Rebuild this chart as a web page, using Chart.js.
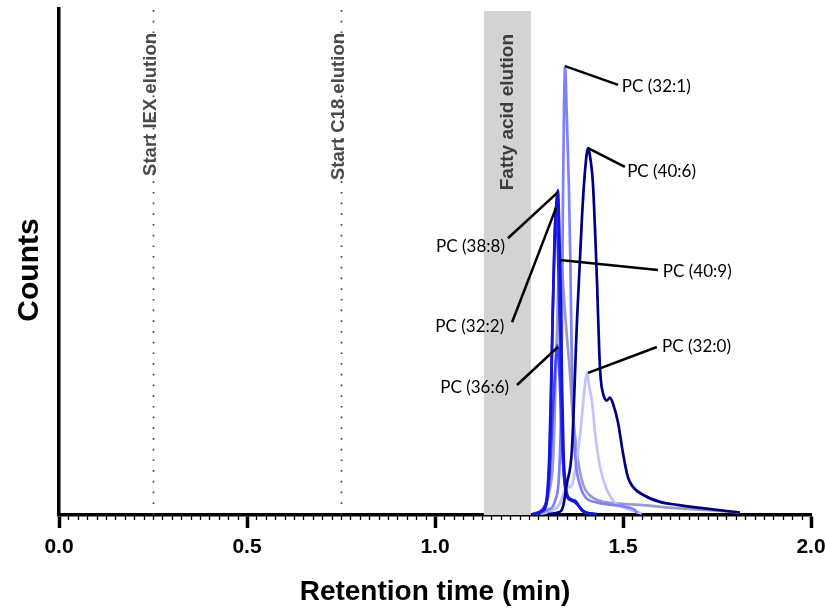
<!DOCTYPE html>
<html><head><meta charset="utf-8">
<script src="https://cdn.jsdelivr.net/npm/chart.js@4"></script>
<style>html,body{margin:0;padding:0;background:#fff}</style>
</head><body>
<canvas id="c" width="825" height="613"></canvas>
<script>
// ---- data (retention time in min, counts in arbitrary % units) ----
const pc406X = [1.30,1.332,1.340,1.351,1.364,1.378,1.391,1.399,1.407,1.414,1.420,1.431,1.437,1.441,1.447,1.457,1.465,1.473,1.487,1.500,1.513,1.527,1.553,1.598,1.644,1.705,1.811];
const pc406Y = [0.2,0.6,1.5,6.3,12.8,39,59,68,72.5,70,65.6,45.8,32,26.7,24,22.6,23.2,22.1,18.2,12.2,7.5,5.5,4,2.6,2,1.4,0.5];

const pc321X = [1.26,1.30,1.32,1.33,1.335,1.338,1.340,1.343,1.346,1.350,1.356,1.360,1.364,1.368,1.375,1.385,1.40,1.43,1.47,1.50,1.527,1.54];
const pc321Y = [0.2,1,3,8,20,40,60,80,88.7,80,65,50,30,18,10,6,3.5,2.5,2,1.7,1.2,0.4];

const pc388X = [1.26,1.29,1.298,1.303,1.308,1.313,1.318,1.323,1.327,1.330,1.334,1.338,1.342,1.347,1.352,1.36,1.37,1.38,1.39,1.40,1.43];
const pc388Y = [0.2,1,3,8,20,40,55,62,64.2,58,45,25,12,6,3.5,3,2.8,2,1,0.5,0.2];

const pc322X = [1.27,1.29,1.298,1.304,1.310,1.316,1.320,1.322,1.326,1.331,1.336,1.341,1.347,1.355,1.365,1.375,1.385,1.40,1.42];
const pc322Y = [0.3,1.5,4,12,30,48,58,61,55,40,22,10,5,3.5,3,2.7,1.5,0.5,0.2];

const pc366X = [1.28,1.295,1.305,1.312,1.319,1.325,1.331,1.337,1.343,1.35,1.36,1.37,1.38,1.39,1.41];
const pc366Y = [0.5,2,8,18,28,33.6,28,16,8,4.5,3,2.6,2,1,0.3];

const pc409X = [1.26,1.29,1.305,1.315,1.322,1.328,1.332,1.338,1.344,1.351,1.359,1.365,1.372,1.380,1.394,1.410,1.439,1.48,1.545,1.632,1.720,1.811];
const pc409Y = [0.2,1.5,5,12,30,45,50.4,48,42,35,28,21,16,11,6,4,2.8,2.3,2.0,1.4,1.0,0.5];

const pc320X = [1.28,1.31,1.33,1.345,1.351,1.357,1.365,1.375,1.386,1.394,1.400,1.404,1.409,1.418,1.426,1.439,1.457,1.479,1.50,1.527,1.55];
const pc320Y = [0.2,0.8,2,5,6.3,5.5,6,10,16,22,26.5,28.1,26,22,16,9.5,5,2.4,1.6,0.8,0.3];

const seriesNames = ['PC (40:6)','PC (38:8)','PC (32:2)','PC (36:6)','PC (32:1)','PC (32:0)','PC (40:9)'];
const xTickLabels = ['0.0','0.5','1.0','1.5','2.0'];
const markerTimes = [0.25, 0.75];
const markerLabels = ['Start IEX elution','Start C18 elution'];
const bandRange = [1.13, 1.255];
const bandLabel = 'Fatty acid elution';
const yTitle = 'Counts';
const xTitle = 'Retention time (min)';

// annotation leaders: anchor (peak), line end, text position
const annotations = [
  {text:'PC (32:1)', ax:1.346, ay:88.7, ex:1.487, ey:85.0, tx:1.497, ty:84.6, side:'right'},
  {text:'PC (40:6)', ax:1.407, ay:72.5, ex:1.505, ey:68.8, tx:1.511, ty:67.8, side:'right'},
  {text:'PC (38:8)', ax:1.327, ay:63.8, ex:1.194, ey:54.7, tx:1.186, ty:53.0, side:'left'},
  {text:'PC (32:2)', ax:1.322, ay:60.7, ex:1.205, ey:38.1, tx:1.184, ty:37.2, side:'left'},
  {text:'PC (40:9)', ax:1.332, ay:50.4, ex:1.593, ey:48.4, tx:1.606, ty:48.2, side:'right'},
  {text:'PC (32:0)', ax:1.407, ay:28.1, ex:1.590, ey:33.2, tx:1.604, ty:33.2, side:'right'},
  {text:'PC (36:6)', ax:1.327, ay:33.2, ex:1.218, ey:25.7, tx:1.197, ty:25.1, side:'left'}
];

const zip = (xs, ys) => xs.map((v, i) => ({x: v, y: ys[i]}));
const seriesData = [zip(pc406X,pc406Y), zip(pc388X,pc388Y), zip(pc322X,pc322Y), zip(pc366X,pc366Y), zip(pc321X,pc321Y), zip(pc320X,pc320Y), zip(pc409X,pc409Y)];
const seriesColors = ['#000080','#1414d8','#2a2aff','#4444ff','#8080ff','#c2c2ff','#9a9ccc'];

const FONT = "'Liberation Sans', Arial, sans-serif";

const decorPlugin = {
  id: 'decor',
  beforeDatasetsDraw(chart) {
    const {ctx, chartArea: ca, scales: {x}} = chart;
    ctx.save();
    // band
    const b0 = x.getPixelForValue(bandRange[0]), b1 = x.getPixelForValue(bandRange[1]);
    ctx.fillStyle = '#d3d3d3';
    ctx.fillRect(b0, ca.top + 2, b1 - b0, ca.bottom - ca.top - 2);
    // dotted marker lines
    ctx.strokeStyle = '#444';
    ctx.lineWidth = 1.7;
    ctx.setLineDash([1.7, 9]);
    markerTimes.forEach(t => {
      const px = Math.round(x.getPixelForValue(t)) + 0.5;
      ctx.beginPath(); ctx.moveTo(px, ca.top + 1); ctx.lineTo(px, ca.bottom); ctx.stroke();
    });
    ctx.setLineDash([]);
    // vertical labels
    ctx.fillStyle = '#4a4a4a';
    ctx.textAlign = 'right';
    ctx.textBaseline = 'middle';
    ctx.font = 'bold 18.5px ' + FONT;
    markerTimes.forEach((t, i) => {
      const px = x.getPixelForValue(t) - 2;
      ctx.save(); ctx.translate(px, 33); ctx.rotate(-Math.PI / 2);
      ctx.fillText(markerLabels[i], 0, 0); ctx.restore();
    });
    ctx.fillStyle = '#3c3c3c';
    ctx.font = 'bold 19px ' + FONT;
    ctx.save(); ctx.translate((b0 + b1) / 2, 34); ctx.rotate(-Math.PI / 2);
    ctx.fillText(bandLabel, 0, 0); ctx.restore();
    ctx.restore();
  },
  afterDatasetsDraw(chart) {
    const {ctx, scales: {x, y}} = chart;
    ctx.save();
    ctx.strokeStyle = '#000';
    ctx.lineWidth = 2.5;
    ctx.fillStyle = '#000';
    ctx.font = "17px Lato, 'Open Sans', sans-serif";
    ctx.textBaseline = 'middle';
    annotations.forEach(a => {
      ctx.beginPath();
      ctx.moveTo(x.getPixelForValue(a.ax), y.getPixelForValue(a.ay));
      ctx.lineTo(x.getPixelForValue(a.ex), y.getPixelForValue(a.ey));
      ctx.stroke();
      ctx.textAlign = a.side === 'right' ? 'left' : 'right';
      ctx.fillText(a.text, x.getPixelForValue(a.tx), y.getPixelForValue(a.ty));
    });
    ctx.restore();
  },
  afterDraw(chart) {
    const {ctx, chartArea: ca, scales: {x}} = chart;
    ctx.save();
    // minor ticks along x axis
    ctx.strokeStyle = '#000';
    ctx.lineWidth = 1.3;
    for (let k = 0; k <= 80; k++) {
      if (k % 20 === 0) continue;
      const px = Math.round(x.getPixelForValue(k * 0.025)) + 0.5;
      ctx.beginPath(); ctx.moveTo(px, ca.bottom); ctx.lineTo(px, ca.bottom + 5); ctx.stroke();
    }
    // y axis title
    ctx.fillStyle = '#000';
    ctx.font = 'bold 30px ' + FONT;
    ctx.textAlign = 'center';
    ctx.textBaseline = 'middle';
    ctx.translate(30, 270); ctx.rotate(-Math.PI / 2);
    ctx.fillText(yTitle, 0, 0);
    ctx.restore();
  }
};

new Chart(document.getElementById('c'), {
  type: 'line',
  data: {
    datasets: seriesData.map((d, i) => ({
      label: seriesNames[i],
      data: d,
      borderColor: seriesColors[i],
      borderWidth: 2.7,
      pointRadius: 0,
      fill: false,
      cubicInterpolationMode: 'monotone'
    }))
  },
  options: {
    responsive: false,
    animation: false,
    layout: {padding: {left: 0, right: 14, top: 9, bottom: 0}},
    plugins: {legend: {display: false}, tooltip: {enabled: false}, title: {display: false}},
    scales: {
      x: {
        type: 'linear', min: 0, max: 2,
        afterFit(s) { s.height = 98; s.paddingLeft = 0; s.paddingRight = 0; },
        ticks: {
          stepSize: 0.5, color: '#000', padding: 7,
          font: {family: FONT, weight: 'bold', size: 21},
          callback: (v) => xTickLabels[Math.round(v / 0.5)]
        },
        grid: {drawOnChartArea: false, drawTicks: true, tickLength: 13, tickWidth: 3.5, color: '#000'},
        border: {display: true, color: '#000', width: 3.5},
        title: {display: true, text: xTitle, color: '#000', padding: {top: 0, bottom: 4},
          font: {family: FONT, weight: 'bold', size: 28}}
      },
      y: {
        min: 0, max: 100,
        afterFit(s) { s.width = 59; },
        ticks: {display: false},
        grid: {display: false, drawTicks: false},
        border: {display: true, color: '#000', width: 3.5},
        title: {display: false}
      }
    }
  },
  plugins: [decorPlugin]
});
</script>
</body></html>
